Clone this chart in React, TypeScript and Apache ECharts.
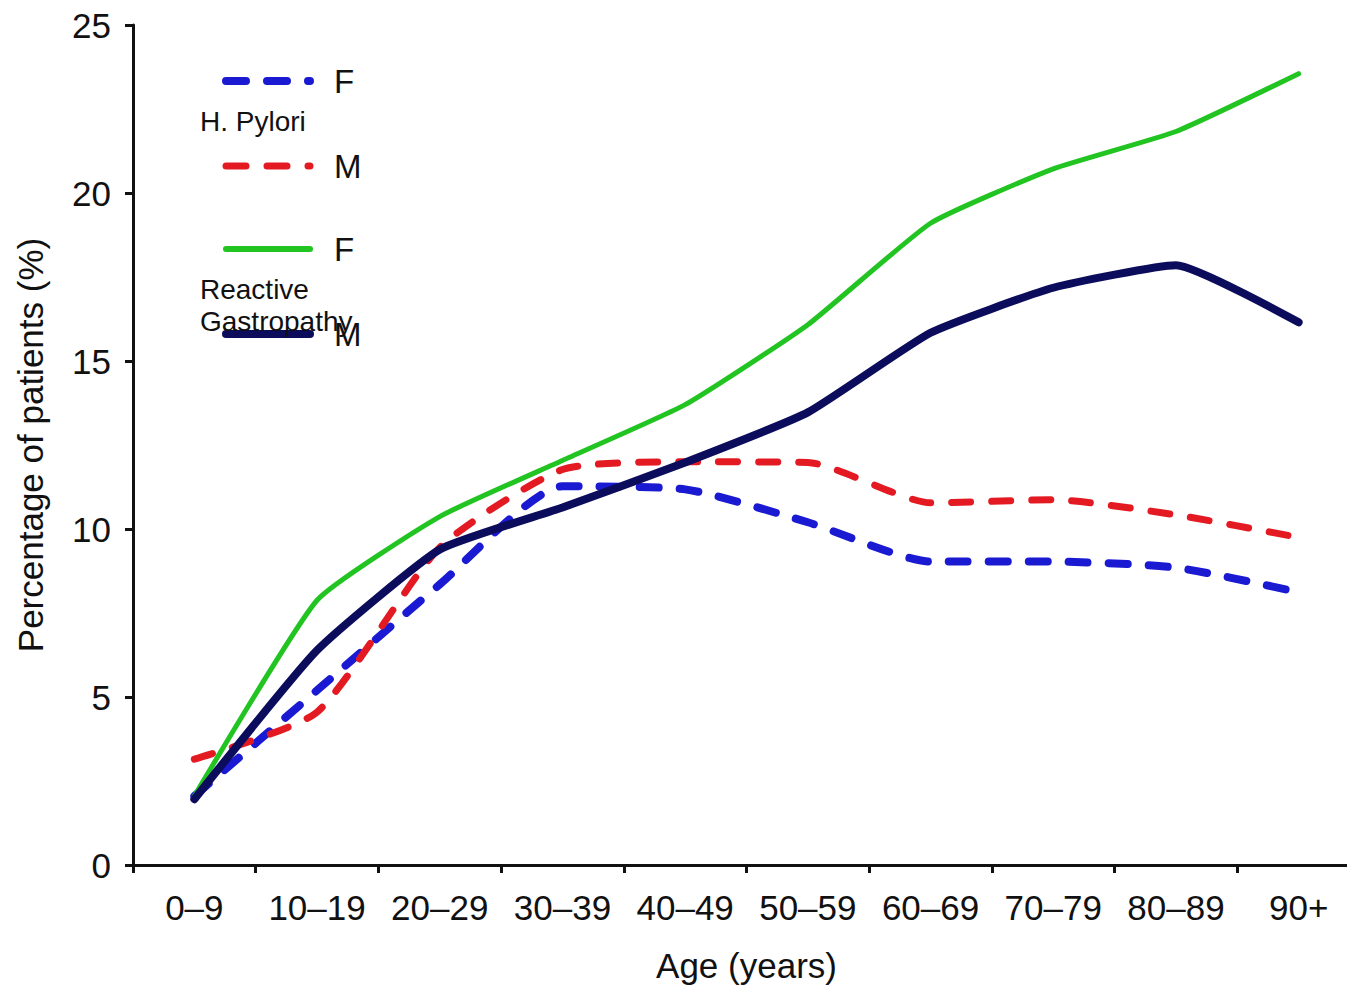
import React, { useEffect, useRef } from "react";
import * as echarts from "echarts";

const categories = ["0–9", "10–19", "20–29", "30–39", "40–49", "50–59", "60–69", "70–79", "80–89", "90+"];
const hpF = [2.05, 5.2, 8.35, 11.27, 11.18, 10.2, 9.03, 9.03, 8.85, 8.12];
const hpM = [3.15, 4.55, 9.45, 11.77, 12.0, 11.98, 10.78, 10.87, 10.42, 9.75];
const rgF = [2.05, 7.88, 10.37, 12.04, 13.7, 16.08, 19.1, 20.72, 21.83, 23.55];
const rgM = [1.96, 6.39, 9.39, 10.64, 11.98, 13.47, 15.84, 17.18, 17.85, 16.15];
const yTicks = [0, 5, 10, 15, 20, 25];

const FONT = "'Liberation Sans', Arial, Helvetica, sans-serif";
const BLUE = "#1a1ad2";
const RED = "#e41a22";
const GREEN = "#22c422";
const NAVY = "#0c0c5c";

export default function App() {
  const ref = useRef<HTMLDivElement>(null);
  useEffect(() => {
    if (!ref.current) return;
    const chart = echarts.init(ref.current, undefined, { renderer: "svg" });
    const dash = [19, 21];
    const legendLine = (y: number, color: string, dashed: boolean, w: number) => ({
      type: "line",
      shape: { x1: 226, y1: y, x2: 310, y2: y },
      style: { stroke: color, lineWidth: w, lineDash: dashed ? [20, 21] : undefined, lineCap: "round" },
    });
    const legendText = (x: number, y: number, text: string, size: number) => ({
      type: "text",
      x,
      y,
      style: { text, fill: "#111", font: `${size}px ${FONT}`, textVerticalAlign: "middle" },
    });
    chart.setOption({
      animation: false,
      backgroundColor: "#fff",
      grid: { left: 133, top: 25, width: 1227, height: 842 },
      xAxis: {
        type: "category",
        data: categories,
        boundaryGap: true,
        name: "Age (years)",
        nameLocation: "middle",
        nameGap: 83,
        nameTextStyle: { fontFamily: FONT, fontSize: 35, color: "#111" },
        axisLine: { lineStyle: { color: "#111", width: 3 } },
        axisTick: { show: true, length: 8, lineStyle: { color: "#111", width: 3 } },
        axisLabel: { fontFamily: FONT, fontSize: 35, color: "#111", margin: 25, interval: 0 },
        splitLine: { show: false },
      },
      yAxis: {
        type: "value",
        min: 0,
        max: 25,
        interval: 5,
        name: "Percentage of patients (%)",
        nameLocation: "middle",
        nameGap: 85,
        nameTextStyle: { fontFamily: FONT, fontSize: 35, color: "#111" },
        axisLine: { show: true, lineStyle: { color: "#111", width: 3 } },
        axisTick: { show: true, length: 8, lineStyle: { color: "#111", width: 3 } },
        axisLabel: {
          fontFamily: FONT,
          fontSize: 35,
          color: "#111",
          margin: 22,
          formatter: (v: number) => (yTicks.includes(v) ? String(v) : ""),
        },
        splitLine: { show: false },
      },
      series: [
        {
          name: "H. Pylori F",
          type: "line",
          data: hpF,
          smooth: 0.2,
          symbol: "none",
          lineStyle: { color: BLUE, width: 8, type: dash, cap: "round" },
          z: 3,
        },
        {
          name: "H. Pylori M",
          type: "line",
          data: hpM,
          smooth: 0.2,
          symbol: "none",
          lineStyle: { color: RED, width: 7, type: dash, cap: "round" },
          z: 4,
        },
        {
          name: "Reactive Gastropathy F",
          type: "line",
          data: rgF,
          smooth: 0.15,
          symbol: "none",
          lineStyle: { color: GREEN, width: 5, cap: "round" },
          z: 5,
        },
        {
          name: "Reactive Gastropathy M",
          type: "line",
          data: rgM,
          smooth: 0.15,
          symbol: "none",
          lineStyle: { color: NAVY, width: 8, cap: "round" },
          z: 6,
        },
      ],
      graphic: [
        legendLine(81, BLUE, true, 8),
        legendText(334, 81, "F", 33),
        legendText(200, 121, "H. Pylori", 28),
        legendLine(166, RED, true, 7),
        legendText(334, 166, "M", 33),
        legendLine(249, GREEN, false, 6),
        legendText(334, 249, "F", 33),
        legendLine(334, NAVY, false, 8),
        legendText(334, 334, "M", 33),
        legendText(200, 289, "Reactive", 28),
        legendText(200, 321, "Gastropathy", 28),
      ],
    });
    return () => chart.dispose();
  }, []);
  return (
    <div style={{ position: "absolute", left: 0, top: 0, width: 1347, height: 988, overflow: "hidden" }}>
      <div ref={ref} style={{ width: 1366, height: 988 }} />
    </div>
  );
}
